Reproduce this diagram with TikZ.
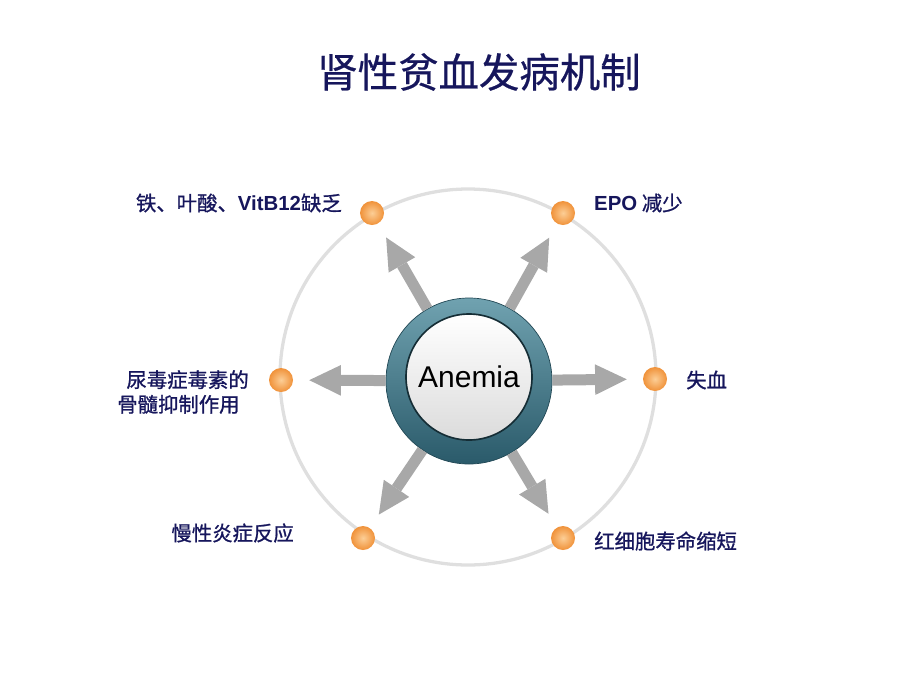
\documentclass[tikz,border=0pt]{standalone}
\usepackage{fontspec}
\setmainfont{Liberation Sans}
\newfontfamily\cjk[FakeBold=1]{Noto Sans CJK SC}
\newfontfamily\cjktitle[FakeBold=0.6]{Noto Sans CJK SC}
\usetikzlibrary{arrows.meta}
\definecolor{navy}{RGB}{22,22,92}
\definecolor{ringlight}{RGB}{112,162,176}
\definecolor{ringdark}{RGB}{42,90,106}
\definecolor{arrowgray}{RGB}{168,168,168}
\definecolor{dotlight}{RGB}{252,206,150}
\definecolor{dotdark}{RGB}{240,146,58}
\newcommand{\lat}[1]{{\rmfamily\bfseries #1}}
\tikzset{
  causedot/.style={circle,minimum size=0.72cm,inner sep=0pt,inner color=dotlight,outer color=dotdark},
  cause/.style={text=navy,inner sep=0pt,font=\cjk\fontsize{17.4}{21}\selectfont},
  fatarrow/.style={draw=arrowgray,line width=0.33cm,shorten >=0.48cm,
    -{Triangle[length=0.95cm,width=0.92cm,line width=0pt]}},
  ring/.style={circle,minimum size=4.98cm,inner sep=0pt,top color=ringlight,bottom color=ringdark,draw=ringdark!80!black,line width=0.6pt},
  core/.style={circle,minimum size=3.78cm,inner sep=0pt,top color=white,bottom color=gray!28,draw=ringdark!50!black,line width=1.4pt,font=\fontsize{25.6}{30}\selectfont}
}
\begin{document}
\begin{tikzpicture}[x=0.03cm,y=-0.03cm]
\useasboundingbox (0,0) rectangle (920,690);

\node [text=navy,font=\cjktitle\fontsize{34.5}{40}\selectfont] (title) at (479,72) {肾性贫血发病机制};

\draw [line width=2.8pt,gray!25] (468,377) circle [radius=188];

\node [causedot] (d1) at (372,213) {};
\node [causedot] (d2) at (563,213) {};
\node [causedot] (d3) at (655,379) {};
\node [causedot] (d4) at (563,538) {};
\node [causedot] (d5) at (363,538) {};
\node [causedot] (d6) at (281,380) {};

\node [ring] (anemia) at (469,381) {};
\node [core] (core) at (469,377) {Anemia};

\foreach \d in {d1,d2,d3,d4,d5,d6}
  \draw [fatarrow] (anemia) -- (\d);

\node [cause,anchor=east] (t1) at (342,203) {铁、叶酸、\lat{VitB12}缺乏};
\node [cause,anchor=west] (t2) at (594,203) {\lat{EPO} 减少};
\node [cause,anchor=west] (t3) at (686,380) {失血};
\node [cause,anchor=east,align=left] (t4) at (249,392) {\hspace*{0.45em}尿毒症毒素的\\骨髓抑制作用};
\node [cause,anchor=east] (t5) at (294,533) {慢性炎症反应};
\node [cause,anchor=west] (t6) at (594,541) {红细胞寿命缩短};

\end{tikzpicture}
\end{document}
